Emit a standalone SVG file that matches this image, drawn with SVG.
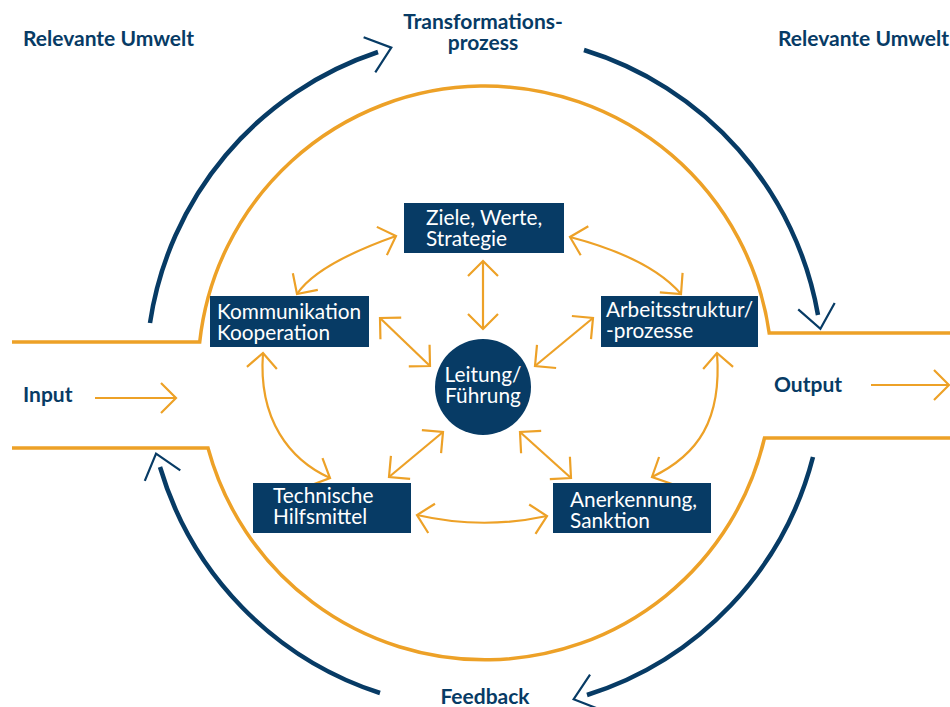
<svg xmlns="http://www.w3.org/2000/svg" width="950" height="707" viewBox="0 0 950 707">
<style>
.lbl{font-family:Lato,"Open Sans","Liberation Sans",sans-serif;font-weight:bold;font-size:21px;fill:#073b65}
.bx{fill:#073b65}
.bt{font-family:Lato,"Open Sans","Liberation Sans",sans-serif;font-size:20.8px;fill:#ffffff}
.orb{fill:none;stroke:#eda127;stroke-width:3.5}
.ora{fill:none;stroke:#eda127;stroke-width:2.2;marker-start:url(#oa);marker-end:url(#oa)}
.ors{fill:none;stroke:#eda127;stroke-width:2.2;marker-end:url(#oa)}
.nav{fill:none;stroke:#073b65;stroke-width:4.5;marker-end:url(#na)}
</style>
<defs>
<marker id="oa" markerUnits="userSpaceOnUse" viewBox="-20 -20 24 40" refX="0" refY="0" markerWidth="24" markerHeight="40" orient="auto-start-reverse" overflow="visible">
<path d="M-15,-15 L0,0 L-15,15" fill="none" stroke="#eda127" stroke-width="2.2"/>
</marker>
<marker id="na" markerUnits="userSpaceOnUse" viewBox="-12 -22 30 44" refX="0" refY="0" markerWidth="30" markerHeight="44" orient="auto" overflow="visible">
<path d="M-9,-18.5 L14,0 L-9,18.5" fill="none" stroke="#073b65" stroke-width="2.2"/>
</marker>
</defs>

<g id="boundary">
<path class="orb" d="M12,342 L199.7,342 A287,287 0 0 1 769.2,333 L950,333"/>
<path class="orb" d="M12,448 L208,448 A287,287 0 0 0 764.5,438 L950,438"/>
</g>

<g id="connectors">
<path class="nav" d="M150,323 A338,338 0 0 1 378,52"/>
<path class="nav" d="M584,50 A338,338 0 0 1 818,315"/>
<path class="nav" d="M813,457 A338,338 0 0 1 587,695"/>
<path class="nav" d="M380,693 A338,338 0 0 1 160,467"/>
<path class="ors" d="M95,398 L176,398"/>
<path class="ors" d="M871,385 L949,385"/>
<path class="ora" d="M483,261 L483,329"/>
<path class="ora" d="M380,318 L430,366"/>
<path class="ora" d="M593,318 L535,366"/>
<path class="ora" d="M389,477 L443,432"/>
<path class="ora" d="M571,478 L520,432"/>
<path class="ora" d="M297,294 Q317,264 396,236"/>
<path class="ora" d="M570,237 Q650,258 681,294"/>
<path class="ora" d="M263,353 C258,420 290,460 330,478"/>
<path class="ora" d="M717,353 C722,420 698,455 652,477"/>
<path class="ora" d="M417,515 Q482,530 547,516"/>
</g>

<g id="labels">
<text class="lbl" x="23" y="46">Relevante Umwelt</text>
<text class="lbl" x="778" y="46">Relevante Umwelt</text>
<text class="lbl" x="483" y="29" text-anchor="middle">Transformations-</text>
<text class="lbl" x="483" y="50" text-anchor="middle">prozess</text>
<text class="lbl" x="23" y="402">Input</text>
<text class="lbl" x="774" y="392">Output</text>
<text class="lbl" x="485" y="704" text-anchor="middle">Feedback</text>
</g>

<g id="ziele">
<rect class="bx" x="404" y="203" width="160" height="50"/>
<text class="bt" x="426" y="225">Ziele, Werte,</text>
<text class="bt" x="426" y="246">Strategie</text>
</g>
<g id="kommunikation">
<rect class="bx" x="210" y="296" width="159" height="51"/>
<text class="bt" x="217" y="319">Kommunikation</text>
<text class="bt" x="217" y="340">Kooperation</text>
</g>
<g id="arbeitsstruktur">
<rect class="bx" x="601" y="296" width="157" height="51"/>
<text class="bt" x="606" y="317">Arbeitsstruktur/</text>
<text class="bt" x="606" y="338">-prozesse</text>
</g>
<g id="technische">
<rect class="bx" x="253" y="483" width="158" height="50"/>
<text class="bt" x="273" y="503">Technische</text>
<text class="bt" x="273" y="524">Hilfsmittel</text>
</g>
<g id="anerkennung">
<rect class="bx" x="553" y="483" width="158" height="50"/>
<text class="bt" x="570" y="507">Anerkennung,</text>
<text class="bt" x="570" y="528">Sanktion</text>
</g>
<g id="leitung">
<circle class="bx" cx="483" cy="387" r="48"/>
<text class="bt" x="483" y="382" text-anchor="middle">Leitung/</text>
<text class="bt" x="483" y="403" text-anchor="middle">Führung</text>
</g>
</svg>
